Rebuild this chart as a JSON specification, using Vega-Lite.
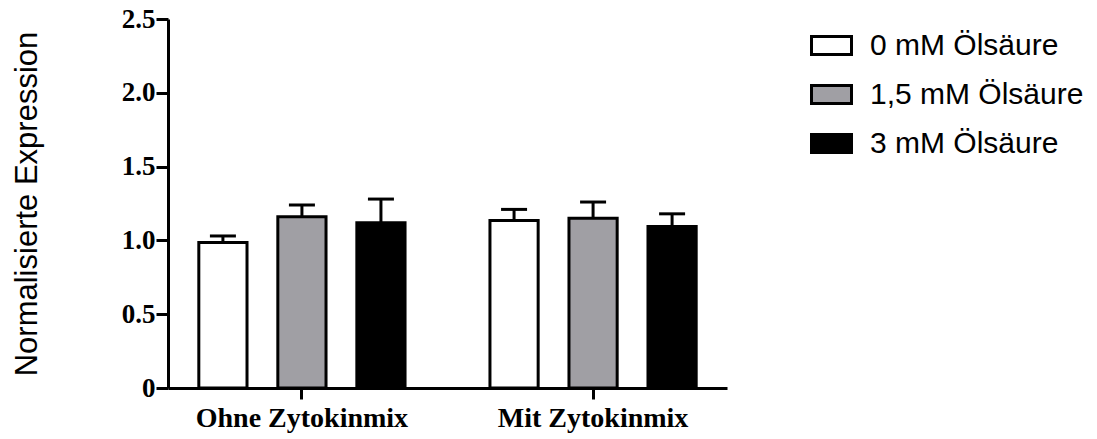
{
  "$schema": "https://vega.github.io/schema/vega-lite/v6.json",
  "width": 559,
  "height": 369,
  "autosize": {"type": "none"},
  "padding": {"left": 168, "top": 19, "right": 370, "bottom": 51},
  "background": "white",
  "config": {
    "view": {"stroke": null},
    "axis": {"grid": false}
  },
  "data": {
    "values": [
      {"gruppe": "Ohne Zytokinmix", "konz": "0 mM Ölsäure", "wert": 0.985, "oben": 1.03},
      {"gruppe": "Ohne Zytokinmix", "konz": "1,5 mM Ölsäure", "wert": 1.16, "oben": 1.24},
      {"gruppe": "Ohne Zytokinmix", "konz": "3 mM Ölsäure", "wert": 1.12, "oben": 1.28},
      {"gruppe": "Mit Zytokinmix", "konz": "0 mM Ölsäure", "wert": 1.135, "oben": 1.21},
      {"gruppe": "Mit Zytokinmix", "konz": "1,5 mM Ölsäure", "wert": 1.15, "oben": 1.26},
      {"gruppe": "Mit Zytokinmix", "konz": "3 mM Ölsäure", "wert": 1.095, "oben": 1.18}
    ]
  },
  "encoding": {
    "x": {
      "field": "gruppe",
      "type": "nominal",
      "sort": ["Ohne Zytokinmix", "Mit Zytokinmix"],
      "scale": {"paddingInner": 0.08, "paddingOuter": 0},
      "axis": {
        "title": null,
        "labelAngle": 0,
        "labelFont": "Liberation Serif",
        "labelFontWeight": "bold",
        "labelFontSize": 28,
        "labelColor": "black",
        "labelPadding": 5,
        "labelLimit": 400,
        "domainColor": "black",
        "domainWidth": 3,
        "tickColor": "black",
        "tickWidth": 3,
        "tickSize": 11
      }
    },
    "xOffset": {
      "field": "konz",
      "type": "nominal",
      "sort": ["0 mM Ölsäure", "1,5 mM Ölsäure", "3 mM Ölsäure"],
      "scale": {"paddingInner": 0.39, "paddingOuter": 0.39}
    }
  },
  "layer": [
    {
      "mark": {"type": "bar", "stroke": "black", "strokeWidth": 3},
      "encoding": {
        "y": {
          "field": "wert",
          "type": "quantitative",
          "scale": {"domain": [0, 2.5], "nice": false, "zero": true},
          "axis": {
            "title": "Normalisierte Expression",
            "titleFont": "Liberation Sans",
            "titleFontWeight": "normal",
            "titleFontSize": 31,
            "titleColor": "black",
            "titleX": -125,
            "values": [0, 0.5, 1, 1.5, 2, 2.5],
            "labelExpr": "datum.value == 0 ? '0' : format(datum.value, '.1f')",
            "labelFont": "Liberation Serif",
            "labelFontWeight": "bold",
            "labelFontSize": 27,
            "labelColor": "black",
            "labelPadding": 1,
            "domainColor": "black",
            "domainWidth": 3,
            "tickColor": "black",
            "tickWidth": 3,
            "tickSize": 12
          }
        },
        "fill": {
          "field": "konz",
          "type": "nominal",
          "scale": {
            "domain": ["0 mM Ölsäure", "1,5 mM Ölsäure", "3 mM Ölsäure"],
            "range": ["#ffffff", "#a09fa4", "#000000"]
          },
          "legend": {
            "title": null,
            "orient": "none",
            "legendX": 642,
            "legendY": 5,
            "padding": 0,
            "symbolType": "M-1,-0.45H1V0.45H-1Z",
            "symbolSize": 1600,
            "symbolStrokeColor": "black",
            "symbolStrokeWidth": 3,
            "symbolOpacity": 1,
            "labelFont": "Liberation Sans",
            "labelFontSize": 30,
            "labelColor": "black",
            "labelOffset": 17,
            "rowPadding": 12,
            "labelLimit": 400
          }
        }
      }
    },
    {
      "mark": {"type": "rule", "color": "black", "strokeWidth": 3},
      "encoding": {
        "y": {"field": "wert", "type": "quantitative"},
        "y2": {"field": "oben"}
      }
    },
    {
      "mark": {"type": "tick", "color": "black", "thickness": 3, "size": 26, "opacity": 1},
      "encoding": {
        "y": {"field": "oben", "type": "quantitative"}
      }
    }
  ]
}
